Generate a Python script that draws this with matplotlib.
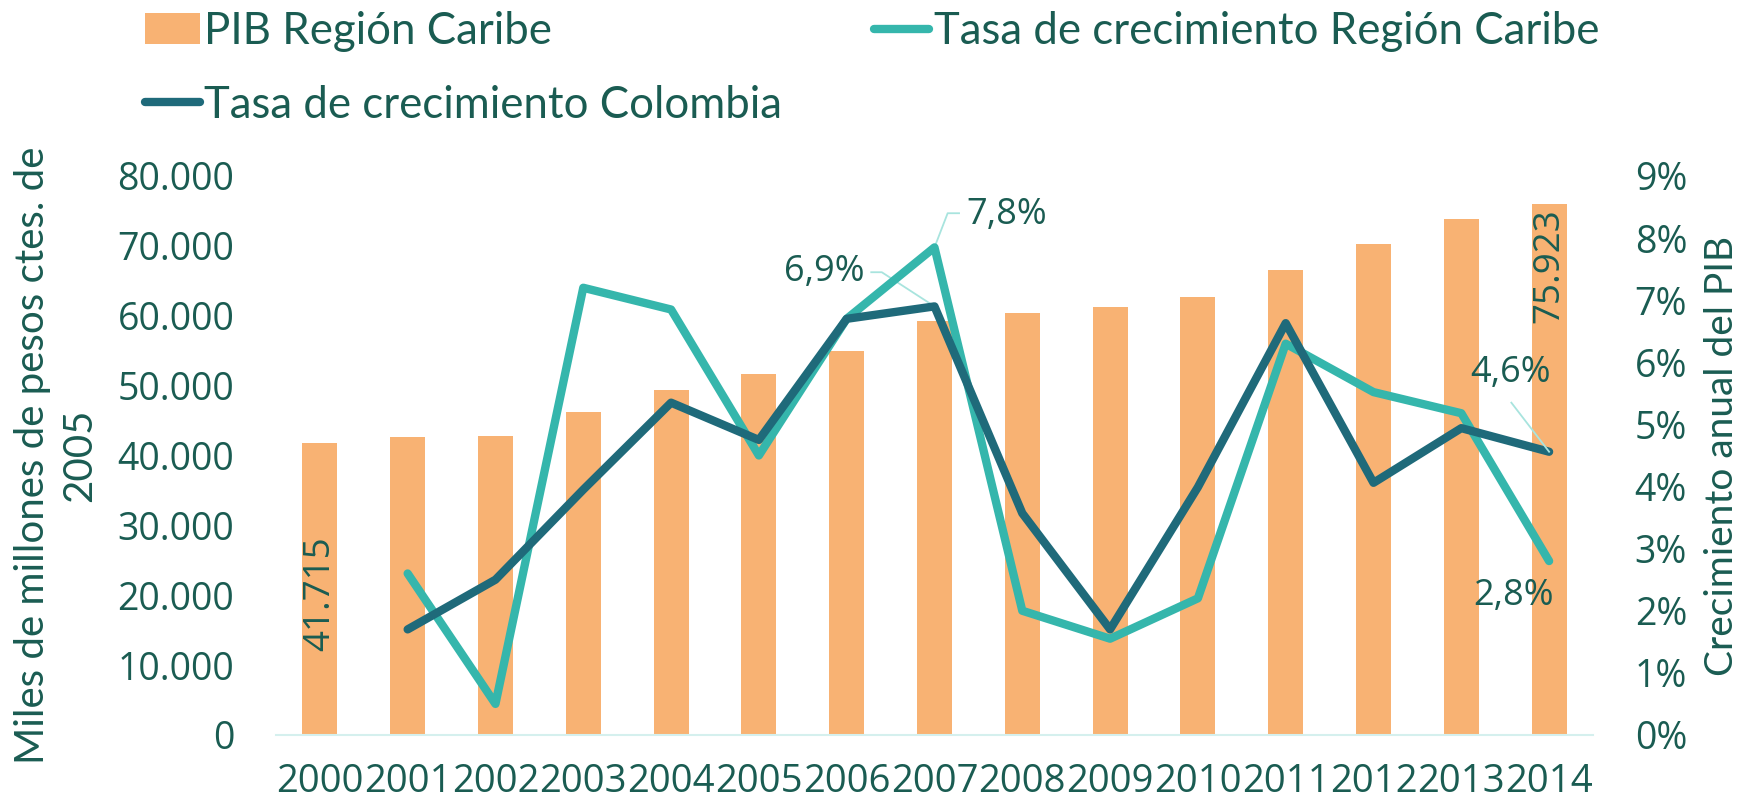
import matplotlib.pyplot as plt
import numpy as np
from matplotlib.ticker import FuncFormatter

plt.rcParams["font.family"] = "Lato"

years = ["2000", "2001", "2002", "2003", "2004", "2005", "2006", "2007",
         "2008", "2009", "2010", "2011", "2012", "2013", "2014"]
pib_caribe = [41715, 42600, 42800, 46200, 49300, 51600, 54900, 59300,
              60400, 61300, 62700, 66600, 70300, 73900, 75923]
# growth rates (%), 2000 has no value
tasa_caribe = [np.nan, 2.6, 0.5, 7.2, 6.85, 4.5, 6.7, 7.85,
               2.0, 1.55, 2.2, 6.3, 5.52, 5.18, 2.8]
tasa_colombia = [np.nan, 1.7, 2.5, 3.95, 5.35, 4.75, 6.7, 6.9,
                 3.57, 1.7, 3.99, 6.63, 4.06, 4.94, 4.56]

text_color = "#1A5C52"
bar_color = "#F8B273"
caribe_color = "#35B6AC"
colombia_color = "#1F6A7A"
leader_color = "#A8E4DE"
num_font = "Open Sans"

fig = plt.figure(figsize=(17.41, 8.09), dpi=100)
ax1 = fig.add_axes([0.1585, 0.0915, 0.7565, 0.691])
ax2 = ax1.twinx()

x = np.arange(len(years))
bars = ax1.bar(x, pib_caribe, 0.40, color=bar_color, label="PIB Región Caribe", zorder=1)
ax1.set_ylim(0, 80000)
ax1.set_xlim(-0.5, len(years) - 0.5)
ax1.set_yticks(np.arange(0, 80001, 10000))
ax1.yaxis.set_major_formatter(FuncFormatter(lambda v, p: f"{int(v):,}".replace(",", ".")))
ax1.set_xticks(x)
ax1.set_xticklabels(years)

l_caribe, = ax2.plot(x, tasa_caribe, color=caribe_color, lw=6,
                     solid_capstyle="round", solid_joinstyle="round",
                     label="Tasa de crecimiento Región Caribe", zorder=3)
l_col, = ax2.plot(x, tasa_colombia, color=colombia_color, lw=6,
                  solid_capstyle="round", solid_joinstyle="round",
                  label="Tasa de crecimiento Colombia", zorder=4)
ax2.set_ylim(0, 9)
ax2.set_yticks(np.arange(0, 10, 1))
ax2.yaxis.set_major_formatter(FuncFormatter(lambda v, p: f"{int(v)}%"))

for ax in (ax1, ax2):
    for s in ax.spines.values():
        s.set_visible(False)
    ax.tick_params(length=0, colors=text_color, labelsize=27)
    for t in ax.get_xticklabels() + ax.get_yticklabels():
        t.set_fontfamily(num_font)
ax1.spines["bottom"].set_visible(True)
ax1.spines["bottom"].set_color("#D5F0EE")
ax1.spines["bottom"].set_linewidth(1.5)
ax1.tick_params(axis="x", labelsize=27.5, pad=20)
ax1.tick_params(axis="y", pad=30)
ax2.tick_params(axis="y", pad=30)
ax1.set_zorder(0)
ax2.set_zorder(1)
ax2.patch.set_visible(False)

ax1.set_ylabel("Miles de millones de pesos ctes. de\n2005", color=text_color,
               fontsize=29, linespacing=1.35)
ax1.yaxis.set_label_coords(-0.135, 0.5)
ax2.set_ylabel("Crecimiento anual del PIB", color=text_color, fontsize=28)
ax2.yaxis.set_label_coords(1.084, 0.5)

# bar value labels
ax1.text(x[0], 12000, "41.715", rotation=90, ha="center", va="bottom",
         color=text_color, fontsize=26.5, fontfamily=num_font)
ax1.text(x[-1], pib_caribe[-1] - 500, "75.923", rotation=90, ha="center", va="top",
         color=text_color, fontsize=26.5, fontfamily=num_font)

# line value labels with leader lines
lab = dict(color=text_color, fontsize=26, va="center", fontfamily=num_font)
ax2.plot([x[7], x[7] + 0.15, x[7] + 0.28], [tasa_caribe[7], 8.4, 8.4],
         color=leader_color, lw=1.3, zorder=2)
ax2.text(x[7] + 0.36, 8.37, "7,8%", ha="left", **lab)
ax2.plot([x[7] - 0.72, x[7] - 0.6, x[7]], [7.45, 7.45, tasa_colombia[7]],
         color=leader_color, lw=1.3, zorder=2)
ax2.text(x[7] - 0.8, 7.46, "6,9%", ha="right", **lab)
ax2.plot([x[14] - 0.43, x[14]], [5.35, tasa_colombia[14]],
         color=leader_color, lw=1.3, zorder=5)
ax2.text(x[14] - 0.44, 5.83, "4,6%", ha="center", **lab)
ax2.text(x[14] - 0.4, 2.24, "2,8%", ha="center", **lab)

handles = [bars, l_col, l_caribe]
leg = fig.legend(handles, [h.get_label() for h in handles], ncol=2,
                 loc="upper left", bbox_to_anchor=(0.068, 1.019), frameon=False,
                 prop={"family": "Lato", "size": 31.5}, handlelength=1.26,
                 handletextpad=0.1, columnspacing=2.1, labelspacing=0.75,
                 borderaxespad=0.2)
for t in leg.get_texts():
    t.set_color(text_color)

fig.savefig("out.png", dpi=100)
